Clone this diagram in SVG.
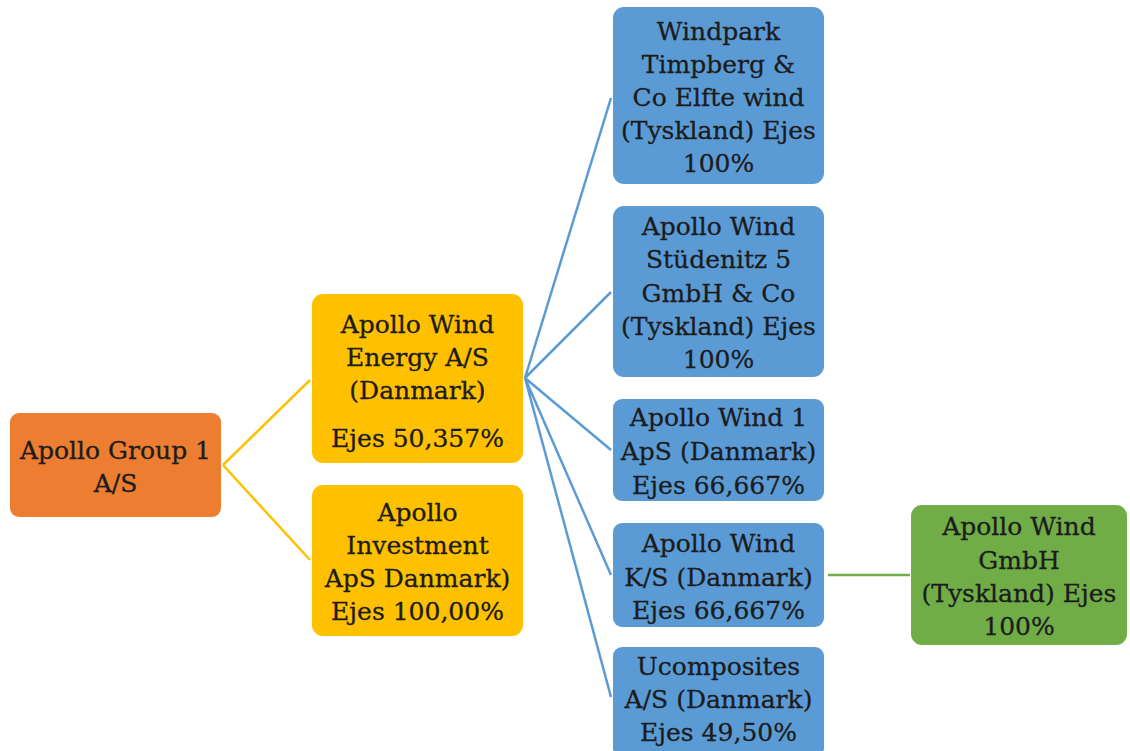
<svg xmlns="http://www.w3.org/2000/svg" width="1130" height="751" viewBox="0 0 1130 751">
<style>
.t{font-family:"DejaVu Serif","Liberation Serif",serif;font-size:25px;text-anchor:middle;fill:#1c1c1c;stroke:#1c1c1c;stroke-width:0.3;}
.or{fill:#ED7D31;}
.ye{fill:#FFC000;}
.bl{fill:#5B9BD5;}
.gr{fill:#70AD47;}
.cy{stroke:#FFC000;stroke-width:2.5;fill:none;}
.cb{stroke:#5B9BD5;stroke-width:2.5;fill:none;}
.cg{stroke:#70AD47;stroke-width:2.5;fill:none;}
</style>
<rect width="1130" height="751" fill="#fff"/>
<g id="connectors">
<path class="cy" d="M223 465 L310 380 M223 465 L310 560"/>
<path class="cb" d="M525 378 L611 98 M525 378 L611 292 M525 378 L611 450 M525 378 L611 575 M525 378 L611 697"/>
<path class="cg" d="M828 575 L910 575"/>
</g>
<g id="n-group"><rect class="or" x="10" y="413" width="211" height="104" rx="9"/>
<text class="t" x="115.5" y="459">Apollo Group 1</text><text class="t" x="115.5" y="492">A/S</text></g>
<g id="n-energy"><rect class="ye" x="312" y="294" width="211" height="169" rx="11"/>
<text class="t" x="417.5" y="333">Apollo Wind</text><text class="t" x="417.5" y="366">Energy A/S</text><text class="t" x="417.5" y="399">(Danmark)</text><text class="t" x="417.5" y="447">Ejes 50,357%</text></g>
<g id="n-invest"><rect class="ye" x="312" y="485" width="211" height="151" rx="11"/>
<text class="t" x="417.5" y="521">Apollo</text><text class="t" x="417.5" y="554">Investment</text><text class="t" x="417.5" y="587">ApS Danmark)</text><text class="t" x="417.5" y="620">Ejes 100,00%</text></g>
<g id="n-timpberg"><rect class="bl" x="613" y="7" width="211" height="177" rx="11"/>
<text class="t" x="718.5" y="40">Windpark</text><text class="t" x="718.5" y="73">Timpberg &amp;</text><text class="t" x="718.5" y="106">Co Elfte wind</text><text class="t" x="718.5" y="139">(Tyskland) Ejes</text><text class="t" x="718.5" y="172">100%</text></g>
<g id="n-studenitz"><rect class="bl" x="613" y="206" width="211" height="171" rx="11"/>
<text class="t" x="718.5" y="235">Apollo Wind</text><text class="t" x="718.5" y="268">Stüdenitz 5</text><text class="t" x="718.5" y="302">GmbH &amp; Co</text><text class="t" x="718.5" y="335">(Tyskland) Ejes</text><text class="t" x="718.5" y="368">100%</text></g>
<g id="n-wind1"><rect class="bl" x="613" y="399" width="211" height="102" rx="9"/>
<text class="t" x="718.5" y="426">Apollo Wind 1</text><text class="t" x="718.5" y="460">ApS (Danmark)</text><text class="t" x="718.5" y="494">Ejes 66,667%</text></g>
<g id="n-windks"><rect class="bl" x="613" y="523" width="211" height="104" rx="9"/>
<text class="t" x="718.5" y="552">Apollo Wind</text><text class="t" x="718.5" y="586">K/S (Danmark)</text><text class="t" x="718.5" y="619">Ejes 66,667%</text></g>
<g id="n-ucomp"><rect class="bl" x="613" y="647" width="211" height="110" rx="9"/>
<text class="t" x="718.5" y="675">Ucomposites</text><text class="t" x="718.5" y="708">A/S (Danmark)</text><text class="t" x="718.5" y="741">Ejes 49,50%</text></g>
<g id="n-gmbh"><rect class="gr" x="911" y="505" width="216" height="140" rx="11"/>
<text class="t" x="1019" y="535">Apollo Wind</text><text class="t" x="1019" y="569">GmbH</text><text class="t" x="1019" y="602">(Tyskland) Ejes</text><text class="t" x="1019" y="635">100%</text></g>
</svg>
